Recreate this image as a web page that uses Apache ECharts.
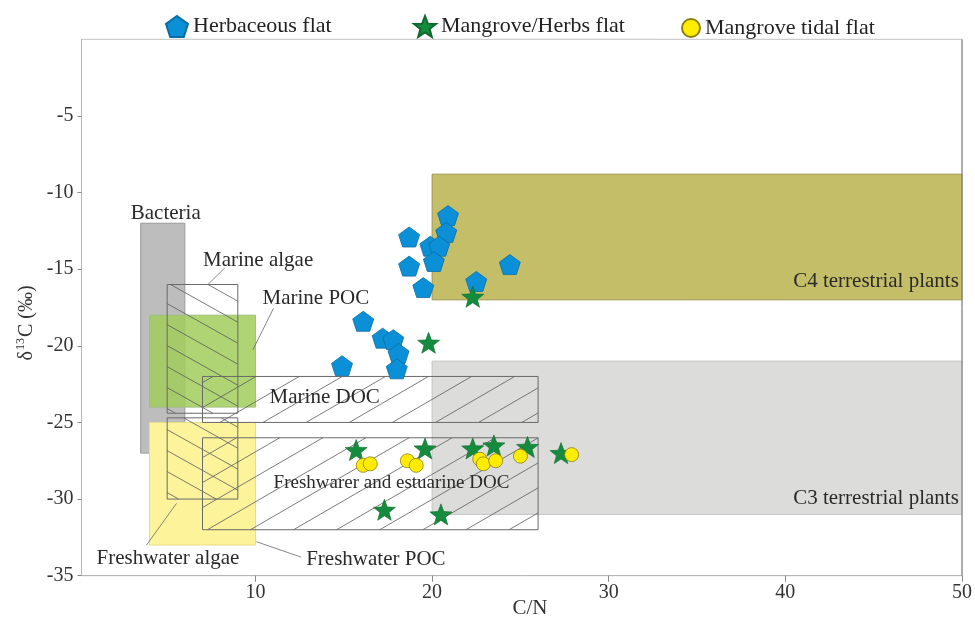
<!DOCTYPE html>
<html>
<head>
<meta charset="utf-8">
<script src="https://cdn.jsdelivr.net/npm/echarts@6/dist/echarts.min.js"></script>
<style>
  html, body { margin: 0; padding: 0; background: #fff; }
  #chart { width: 975px; height: 617px; }
</style>
</head>
<body>
<div id="chart"></div>
<script>
// ---- Sample groups: C/N ratio and δ13C (‰) ----
const herbCN   = [20.9, 18.7, 20.8, 19.9, 20.4, 18.7, 20.1, 24.4, 22.5, 19.5, 16.1, 17.2, 17.8, 18.1, 18.0, 14.9];
const herbD13C = [-11.5, -12.9, -12.6, -13.5, -13.5, -14.8, -14.5, -14.7, -15.8, -16.2, -18.4, -19.5, -19.6, -20.5, -21.5, -21.3];

const mhCN   = [22.3, 19.8, 15.7, 19.6, 22.3, 23.5, 25.4, 27.3, 17.3, 20.5];
const mhD13C = [-16.8, -19.8, -26.8, -26.7, -26.7, -26.5, -26.6, -27.0, -30.7, -31.0];

const mtCN   = [16.1, 16.5, 18.6, 19.1, 22.7, 22.9, 23.6, 25.0, 27.9];
const mtD13C = [-27.8, -27.7, -27.5, -27.8, -27.4, -27.7, -27.5, -27.2, -27.1];

const seriesNames = ['Herbaceous flat', 'Mangrove/Herbs flat', 'Mangrove tidal flat'];

// ---- Source end-member ranges: [C/N min, C/N max, δ13C min, δ13C max] ----
const filledRanges = [
  [20, 50, -31, -21],    // C3 terrestrial plants
  [20, 50, -17, -8.8],   // C4 terrestrial plants
  [3.5, 6, -27, -12],    // Bacteria
  [4, 10, -24, -18],     // Marine POC
  [4, 10, -33, -25]      // Freshwater algae
];
const hatchedRanges = [
  [5, 9, -24.4, -16],    // Marine algae
  [5, 9, -30, -24.7],    // algae (freshwater)
  [7, 26, -25, -22],     // Marine DOC
  [7, 26, -32, -26]      // Freshwater and estuarine DOC
];

const regionLabels = ['Bacteria', 'Marine algae', 'Marine POC', 'Marine DOC',
  'Freshwarer and estuarine DOC', 'Freshwater algae', 'Freshwater POC',
  'C4 terrestrial plants', 'C3 terrestrial plants'];

const yTicks = [-35, -30, -25, -20, -15, -10, -5];
const xTicks = [10, 20, 30, 40, 50];

// ---- Styling / layout ----
const FONT = "'Liberation Serif', 'Times New Roman', serif";
const fillColors = ['#dcdcdb', '#c4be68', '#bdbdbd', 'rgba(160,205,91,0.85)', '#fdf39b'];
const fillStrokes = ['#c4c4c4', '#9d9850', '#9a9a9a', '#a3bf7d', '#e8dc8a'];
// pixel-space slope of the hatch lines (+ is "\", - is "/") and vertical spacing
const hatchSlope = [0.56, 0.56, -0.58, -0.58];
const hatchStep = [21, 21, 25, 25];

// label anchors [C/N, δ13C] and text alignment
const labelAnchors = [
  [4.92, -11.35, 'center'], [7.03, -14.44, 'left'], [10.4, -16.94, 'left'],
  [10.8, -23.4, 'left'], [17.7, -28.95, 'center'], [1.0, -33.85, 'left'],
  [12.87, -33.94, 'left'], [49.82, -15.77, 'right'], [49.82, -29.93, 'right']
];
const labelSizes = [21, 21, 21, 21, 19, 21, 21, 21, 21];
const leaders = [
  [[8.26, -14.92], [7.31, -16.0]],
  [[11.02, -17.55], [9.85, -20.27]],
  [[3.83, -33.0], [5.53, -30.28]],
  [[10.05, -32.78], [12.59, -33.79]]
];

function polygonPath(points) {
  return 'path://' + points.map((p, i) => (i ? 'L' : 'M') + p[0].toFixed(3) + ',' + p[1].toFixed(3)).join(' ') + ' Z';
}
function regularStar(inner) {
  const pts = [];
  for (let i = 0; i < 10; i++) {
    const r = i % 2 ? inner : 1;
    const a = -Math.PI / 2 + i * Math.PI / 5;
    pts.push([r * Math.cos(a), r * Math.sin(a)]);
  }
  return polygonPath(pts);
}
function regularPentagon() {
  const pts = [];
  for (let i = 0; i < 5; i++) {
    const a = -Math.PI / 2 + i * 2 * Math.PI / 5;
    pts.push([Math.cos(a), Math.sin(a)]);
  }
  return polygonPath(pts);
}
const PENTAGON = regularPentagon();
const STAR = regularStar(0.42);

function pairs(xs, ys) { return xs.map((x, i) => [x, ys[i]]); }

function renderFilled(params, api) {
  const tl = api.coord([api.value(0), api.value(3)]);
  const br = api.coord([api.value(1), api.value(2)]);
  const i = params.dataIndex;
  return {
    type: 'rect',
    shape: { x: tl[0], y: tl[1], width: br[0] - tl[0], height: br[1] - tl[1] },
    style: { fill: fillColors[i], stroke: fillStrokes[i], lineWidth: 1 }
  };
}

function renderHatched(params, api) {
  const tl = api.coord([api.value(0), api.value(3)]);
  const br = api.coord([api.value(1), api.value(2)]);
  const x0 = tl[0], y0 = tl[1], x1 = br[0], y1 = br[1];
  const m = hatchSlope[params.dataIndex];
  const step = hatchStep[params.dataIndex];
  const children = [];
  const cs = [y0 - m * x0, y0 - m * x1, y1 - m * x0, y1 - m * x1];
  const cMin = Math.min.apply(null, cs), cMax = Math.max.apply(null, cs);
  for (let k = Math.ceil(cMin / step); k <= Math.floor(cMax / step); k++) {
    const c = k * step;
    const xa = (y0 - c) / m, xb = (y1 - c) / m;
    const lo = Math.max(x0, Math.min(xa, xb));
    const hi = Math.min(x1, Math.max(xa, xb));
    if (hi - lo > 0.5) {
      children.push({
        type: 'line',
        shape: { x1: lo, y1: m * lo + c, x2: hi, y2: m * hi + c },
        style: { stroke: '#5a5a5a', lineWidth: 0.8 }
      });
    }
  }
  children.push({
    type: 'rect',
    shape: { x: x0, y: y0, width: x1 - x0, height: y1 - y0 },
    style: { fill: 'none', stroke: '#6a6a6a', lineWidth: 1 }
  });
  return { type: 'group', children: children };
}

const chart = echarts.init(document.getElementById('chart'), null, { renderer: 'canvas' });

const legendBase = {
  top: 10,
  itemHeight: 22,
  itemGap: 0,
  textStyle: { fontFamily: FONT, fontSize: 22, color: '#222' }
};

chart.setOption({
  animation: false,
  backgroundColor: '#fff',
  grid: {
    left: 81.5, right: 11, top: 39.3, bottom: 41.3, containLabel: false,
    show: true, borderColor: '#c2c2c2', borderWidth: 1, backgroundColor: 'transparent'
  },
  legend: [
    Object.assign({}, legendBase, { data: [seriesNames[0]], left: 160, itemWidth: 22 }),
    Object.assign({}, legendBase, { data: [seriesNames[1]], left: 408, itemWidth: 22 }),
    Object.assign({}, legendBase, { data: [seriesNames[2]], left: 676, itemWidth: 18, itemHeight: 18, top: 12 })
  ],
  xAxis: {
    type: 'value', min: 0.15, max: 50,
    axisLine: { show: true, onZero: false, lineStyle: { color: '#b5b5b5', width: 1 } },
    axisTick: { show: true, length: 6, lineStyle: { color: '#8a8a8a' }, customValues: xTicks },
    axisLabel: { fontFamily: FONT, fontSize: 20, color: '#333', margin: 7, customValues: xTicks },
    splitLine: { show: false }
  },
  yAxis: {
    type: 'value', min: -35, max: 0,
    axisLine: { show: true, onZero: false, lineStyle: { color: '#b5b5b5', width: 1 } },
    axisTick: { show: true, length: 4, lineStyle: { color: '#8a8a8a' }, customValues: yTicks },
    axisLabel: { fontFamily: FONT, fontSize: 20, color: '#333', margin: 8, customValues: yTicks },
    splitLine: { show: false }
  },
  series: [
    {
      type: 'custom', name: 'filled ranges', silent: true, z: 1,
      data: filledRanges, encode: { x: [0, 1], y: [2, 3] },
      renderItem: renderFilled
    },
    {
      type: 'custom', name: 'hatched ranges', silent: true, z: 2,
      data: hatchedRanges, encode: { x: [0, 1], y: [2, 3] },
      renderItem: renderHatched
    },
    {
      type: 'scatter', name: seriesNames[0], z: 5,
      data: pairs(herbCN, herbD13C),
      symbol: PENTAGON, symbolSize: [21, 20],
      itemStyle: { color: '#0b8fd6', borderColor: '#0a6ea6', borderWidth: 0.8, opacity: 1 }
    },
    {
      type: 'scatter', name: seriesNames[1], z: 6,
      data: pairs(mhCN, mhD13C),
      symbol: STAR, symbolSize: [22, 21],
      itemStyle: { color: '#148b3d', borderColor: '#0d6a2c', borderWidth: 0.6, opacity: 1 }
    },
    {
      type: 'scatter', name: seriesNames[2], z: 7,
      data: pairs(mtCN, mtD13C),
      symbol: 'circle', symbolSize: 14,
      itemStyle: { color: '#ffec00', borderColor: '#8c7f10', borderWidth: 0.8, opacity: 1 }
    }
  ]
});

// ---- annotations placed in data coordinates ----
const toPx = (p) => chart.convertToPixel({ xAxisIndex: 0, yAxisIndex: 0 }, p);
const graphics = [];
regionLabels.forEach((t, i) => {
  const a = labelAnchors[i];
  const p = toPx([a[0], a[1]]);
  graphics.push({
    type: 'text', x: p[0], y: p[1], z: 20, silent: true,
    style: { text: t, fontFamily: FONT, fontSize: labelSizes[i], fill: '#2a2a2a', align: a[2], verticalAlign: 'middle' }
  });
});
leaders.forEach((seg) => {
  const a = toPx(seg[0]), b = toPx(seg[1]);
  graphics.push({
    type: 'line', z: 19, silent: true,
    shape: { x1: a[0], y1: a[1], x2: b[0], y2: b[1] },
    style: { stroke: '#6a6a6a', lineWidth: 0.8 }
  });
});
// darker right-hand frame edge
const rTop = toPx([50, 0]), rBot = toPx([50, -35]);
graphics.push({
  type: 'line', z: 18, silent: true,
  shape: { x1: rTop[0], y1: rTop[1], x2: rBot[0], y2: rBot[1] },
  style: { stroke: '#7a7a7a', lineWidth: 1 }
});
// axis titles
graphics.push({
  type: 'text', x: 530, y: 608, z: 20, silent: true,
  style: { text: 'C/N', fontFamily: FONT, fontSize: 21, fill: '#333', align: 'center', verticalAlign: 'middle' }
});
graphics.push({
  type: 'text', x: 27, y: 323, rotation: Math.PI / 2, z: 20, silent: true,
  style: {
    text: '{a|δ}{b|13}{a|C (‰)}', align: 'center', verticalAlign: 'middle', fill: '#333',
    rich: {
      a: { fontFamily: FONT, fontSize: 20, fill: '#333' },
      b: { fontFamily: FONT, fontSize: 12, fill: '#333', padding: [0, 1, 12, 1] }
    }
  }
});
chart.setOption({ graphic: graphics });
</script>
</body>
</html>
